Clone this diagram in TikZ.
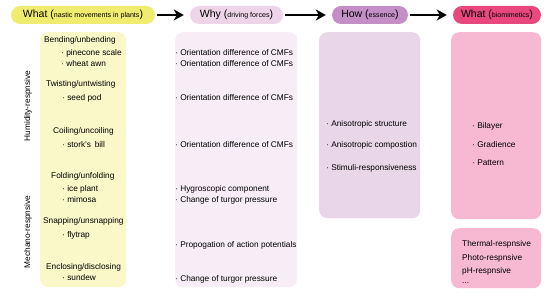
\documentclass[tikz,border=0pt]{standalone}
\usepackage{fontspec}
\setmainfont{Liberation Sans}
\usetikzlibrary{arrows.meta}
\definecolor{hyel}{RGB}{240,236,112}
\definecolor{byel}{RGB}{250,247,200}
\definecolor{hwhy}{RGB}{237,212,233}
\definecolor{bwhy}{RGB}{248,237,246}
\definecolor{hhow}{RGB}{196,142,198}
\definecolor{bhow}{RGB}{233,214,233}
\definecolor{hbio}{RGB}{232,72,126}
\definecolor{bbio}{RGB}{246,185,209}
\tikzset{
  pill/.style={rounded corners=9pt, minimum height=18pt, inner sep=0pt, font=\fontsize{10.5}{12}\selectfont},
  col/.style={rounded corners=8pt, anchor=north west, inner sep=0pt},
  txt/.style={anchor=west, inner sep=0pt, font=\fontsize{8.3}{10}\selectfont},
  side/.style={rotate=90, inner sep=0pt, font=\fontsize{8.3}{10}\selectfont},
  arr/.style={line width=2.8pt, -{Stealth[length=10pt,width=11pt,inset=3pt]}, shorten <=2pt, shorten >=6pt},
}
\newcommand{\sm}[1]{{\fontsize{7.1}{8}\selectfont #1}}
\begin{document}
\begin{tikzpicture}[x=1pt,y=-1pt]
\useasboundingbox (0,0) rectangle (550,299);
% headers
\node[pill, fill=hyel, minimum width=144pt] (h1) at (83,15) {What (\sm{nastic movements in plants})};
\node[pill, fill=hwhy, minimum width=93pt] (h2) at (236.5,15) {Why (\sm{driving forces})};
\node[pill, fill=hhow, minimum width=76pt] (h3) at (370,15) {How (\sm{essence})};
\node[pill, fill=hbio, minimum width=88pt] (h4) at (497,15) {What (\sm{biomimetics})};
\draw[arr] (h1) -- (h2);
\draw[arr] (h2) -- (h3);
\draw[arr] (h3) -- (h4);
% columns
\node[col, fill=byel, minimum width=86pt, minimum height=255pt] (c1) at (40,32) {};
\node[col, fill=bwhy, minimum width=122pt, minimum height=255pt] (c2) at (175,32) {};
\node[col, fill=bhow, minimum width=101pt, minimum height=186pt] (c3) at (319,32) {};
\node[col, fill=bbio, minimum width=90pt, minimum height=187pt] (c4) at (451,32) {};
\node[col, fill=bbio, minimum width=90pt, minimum height=60pt] (c5) at (451,228) {};
% side labels
\node[side] (s1) at (28,106) {Humidity-respnsive};
\node[side] (s2) at (28,232) {Mechano-respnsive};
% column 1
\node[txt] (a1) at (44,40) {Bending/unbending};
\node[txt] (a2) at (61,53) {· pinecone scale};
\node[txt] (a3) at (61,64) {· wheat awn};
\node[txt] (a4) at (46,84) {Twisting/untwisting};
\node[txt] (a5) at (62,98) {· seed pod};
\node[txt] (a6) at (53,131) {Coiling/uncoiling};
\node[txt] (a7) at (62,145) {· stork's\, bill};
\node[txt] (a8) at (51,176) {Folding/unfolding};
\node[txt] (a9) at (62,189) {· ice plant};
\node[txt] (a10) at (62,200) {· mimosa};
\node[txt] (a11) at (43,221) {Snapping/unsnapping};
\node[txt] (a12) at (62,235) {· flytrap};
\node[txt] (a13) at (46,267) {Enclosing/disclosing};
\node[txt] (a14) at (62,278) {· sundew};
% column 2
\node[txt] (b1) at (175,53) {· Orientation difference of CMFs};
\node[txt] (b2) at (175,64) {· Orientation difference of CMFs};
\node[txt] (b3) at (175,98) {· Orientation difference of CMFs};
\node[txt] (b4) at (175,145) {· Orientation difference of CMFs};
\node[txt] (b5) at (175,189) {· Hygroscopic component};
\node[txt] (b6) at (175,200) {· Change of turgor pressure};
\node[txt] (b7) at (175,245) {· Propogation of action potentials};
\node[txt] (b8) at (175,279) {· Change of turgor pressure};
% column 3
\node[txt] (d1) at (326,124) {· Anisotropic structure};
\node[txt] (d2) at (326,145) {· Anisotropic compostion};
\node[txt] (d3) at (326,168) {· Stimuli-responsiveness};
% column 4
\node[txt] (e1) at (472,126) {· Bilayer};
\node[txt] (e2) at (472,145) {· Gradience};
\node[txt] (e3) at (472,163) {· Pattern};
\node[txt] (f1) at (462,244) {Thermal-respnsive};
\node[txt] (f2) at (462,258) {Photo-respnsive};
\node[txt] (f3) at (462,271) {pH-respnsive};
\node[txt] (f4) at (462,283) {...};
\end{tikzpicture}
\end{document}
